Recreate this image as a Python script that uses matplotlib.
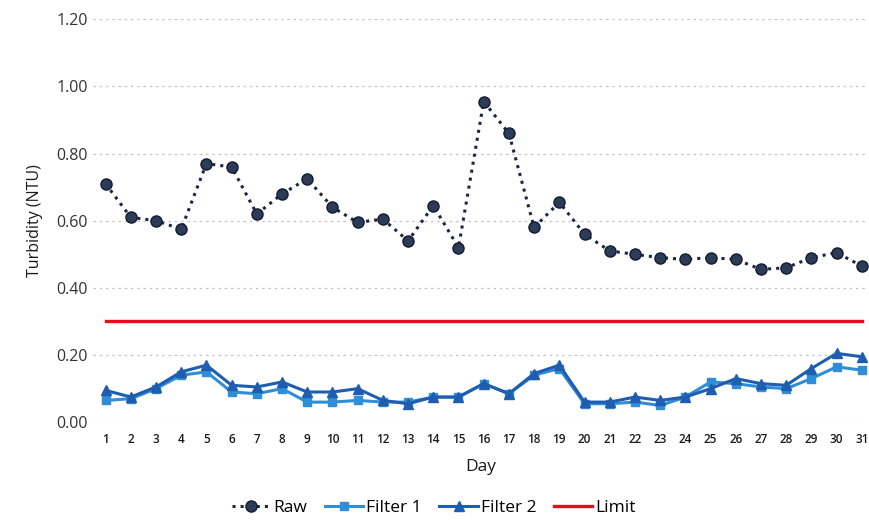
import numpy as np
import matplotlib.pyplot as plt

plt.rcParams['font.family'] = ['Open Sans', 'DejaVu Sans']

days = list(range(1, 32))
raw = [0.71, 0.61, 0.60, 0.575, 0.77, 0.76, 0.62, 0.68, 0.725, 0.64, 0.595, 0.605, 0.54, 0.645, 0.52, 0.955,
       0.86, 0.58, 0.655, 0.56, 0.51, 0.50, 0.49, 0.485, 0.49, 0.485, 0.455, 0.46, 0.49, 0.505, 0.465]
filter1 = [0.065, 0.07, 0.10, 0.14, 0.15, 0.09, 0.085, 0.10, 0.06, 0.06, 0.065, 0.06, 0.06, 0.075, 0.075, 0.115,
           0.085, 0.14, 0.16, 0.055, 0.055, 0.06, 0.05, 0.075, 0.12, 0.115, 0.105, 0.10, 0.13, 0.165, 0.155]
filter2 = [0.095, 0.075, 0.105, 0.15, 0.17, 0.11, 0.105, 0.12, 0.09, 0.09, 0.10, 0.065, 0.055, 0.075, 0.075, 0.115,
           0.085, 0.145, 0.17, 0.06, 0.06, 0.075, 0.065, 0.075, 0.10, 0.13, 0.115, 0.11, 0.16, 0.205, 0.195]
limit = [0.30] * 31

fig = plt.figure(figsize=(8.69, 5.2), dpi=100)
ax = fig.add_axes([0.107, 0.188, 0.892, 0.775])

ax.plot(days, raw, ':', color='#1b2740', lw=2.2, marker='o', ms=8,
        mfc='#2c3b58', mec='#131c30', mew=1, label='Raw', zorder=4)
ax.plot(days, filter1, '-', color='#2f8ed8', lw=2.2, marker='s', ms=6, label='Filter 1', zorder=3)
ax.plot(days, filter2, '-', color='#1f5db0', lw=2.2, marker='^', ms=7, label='Filter 2', zorder=3)
ax.plot(days, limit, '-', color='#e2101e', lw=2.4, label='Limit', zorder=2)

ax.set_xlim(0.5, 31.25)
ax.set_ylim(0, 1.2)
ax.set_yticks(np.arange(0, 1.21, 0.2))
ax.set_yticklabels([f'{v:.2f}' for v in np.arange(0, 1.21, 0.2)], fontsize=11.5, color='#333333')
ax.set_xticks(days)
ax.set_xticklabels([str(d) for d in days], fontsize=8.5, color='#1a1a1a', fontweight='semibold')
ax.tick_params(length=0)
ax.tick_params(axis='x', pad=8)
ax.grid(axis='y', ls=(0, (2, 3)), color='#c4c4c4', lw=0.9)
for s in ax.spines.values():
    s.set_visible(False)

ax.set_xlabel('Day', fontsize=12.5, color='#1a1a1a', labelpad=9)
ax.set_ylabel('Turbidity (NTU)', fontsize=11.5, color='#1a1a1a', labelpad=10)

ax.legend(loc='upper center', bbox_to_anchor=(0.44, -0.155), ncol=4, frameon=False,
          fontsize=12.5, handlelength=2.2, columnspacing=1.0, handletextpad=0.2)

plt.savefig('out.png', dpi=100)
